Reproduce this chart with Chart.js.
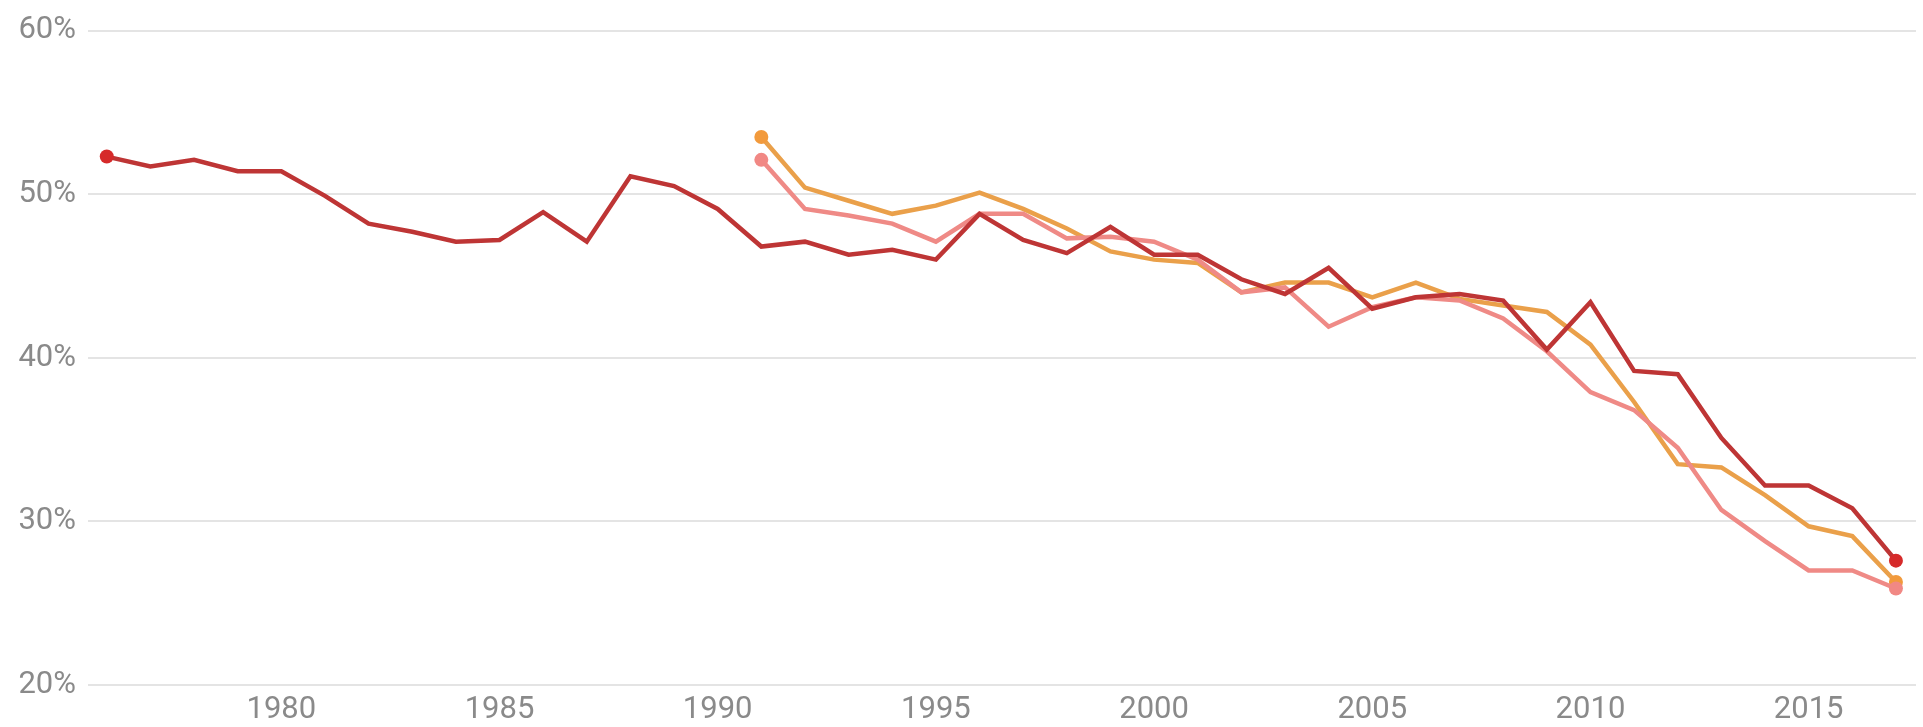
<!DOCTYPE html>
<html>
<head>
<meta charset="utf-8">
<script src="https://cdn.jsdelivr.net/npm/chart.js@4.4.1/dist/chart.umd.min.js"></script>
<style>
    html, body { margin: 0; padding: 0; background: #fff; }
    #wrap { width: 1923px; height: 727px; }
</style>
</head>
<body>
<div id="wrap"><canvas id="chart"></canvas></div>
<script>
// years on the x axis
const years = [1976, 1977, 1978, 1979, 1980, 1981, 1982, 1983, 1984, 1985,
    1986, 1987, 1988, 1989, 1990, 1991, 1992, 1993, 1994, 1995,
    1996, 1997, 1998, 1999, 2000, 2001, 2002, 2003, 2004, 2005,
    2006, 2007, 2008, 2009, 2010, 2011, 2012, 2013, 2014, 2015,
    2016, 2017];

// values in %
const redSeries = [52.3, 51.7, 52.1, 51.4, 51.4, 49.9, 48.2, 47.7, 47.1, 47.2,
    48.9, 47.1, 51.1, 50.5, 49.1, 46.8, 47.1, 46.3, 46.6, 46.0,
    48.8, 47.2, 46.4, 48.0, 46.3, 46.3, 44.8, 43.9, 45.5, 43.0,
    43.7, 43.9, 43.5, 40.5, 43.4, 39.2, 39.0, 35.1, 32.2, 32.2,
    30.8, 27.6];
const orangeSeries = [null, null, null, null, null, null, null, null, null, null,
    null, null, null, null, null, 53.5, 50.4, 49.6, 48.8, 49.3,
    50.1, 49.1, 47.9, 46.5, 46.0, 45.8, 44.0, 44.6, 44.6, 43.7,
    44.6, 43.6, 43.2, 42.8, 40.8, 37.3, 33.5, 33.3, 31.6, 29.7,
    29.1, 26.3];
const pinkSeries = [null, null, null, null, null, null, null, null, null, null,
    null, null, null, null, null, 52.1, 49.1, 48.7, 48.2, 47.1,
    48.8, 48.8, 47.3, 47.4, 47.1, 46.0, 44.0, 44.3, 41.9, 43.1,
    43.7, 43.5, 42.4, 40.4, 37.9, 36.8, 34.5, 30.7, 28.8, 27.0,
    27.0, 25.9];

const xTickYears = [1980, 1985, 1990, 1995, 2000, 2005, 2010, 2015];
const yTicks = [20, 30, 40, 50, 60];

const toPoints = (arr) => years.map((y, i) => ({ x: y, y: arr[i] }));

// dots only on the first and last value of each line
function endDots(radius) {
    return (ctx) => {
        const data = ctx.dataset.data;
        const first = data.findIndex(p => p.y !== null);
        const last = data.length - 1;
        return (ctx.dataIndex === first || ctx.dataIndex === last) ? radius : 0;
    };
}

const tickFont = { family: 'Roboto', size: 31 };
const tickColor = '#8a8a8a';

new Chart(document.getElementById('chart'), {
    type: 'line',
    data: {
        datasets: [
            {
                label: 'Series 1',
                data: toPoints(redSeries),
                borderColor: '#be3535',
                backgroundColor: '#d62a2a',
                borderWidth: 4.5,
                pointRadius: endDots(7),
                pointBorderWidth: 0,
                tension: 0
            },
            {
                label: 'Series 3',
                data: toPoints(pinkSeries),
                borderColor: '#ef8a86',
                backgroundColor: '#f18884',
                borderWidth: 4.5,
                pointRadius: endDots(7),
                pointBorderWidth: 0,
                tension: 0
            },
            {
                label: 'Series 2',
                data: toPoints(orangeSeries),
                borderColor: '#eaa04a',
                backgroundColor: '#f29a3c',
                borderWidth: 4.5,
                pointRadius: endDots(7),
                pointBorderWidth: 0,
                tension: 0
            }
        ]
    },
    options: {
        responsive: true,
        maintainAspectRatio: false,
        animation: false,
        spanGaps: false,
        layout: { padding: { top: 25, right: 0, left: 0, bottom: 0 } },
        plugins: {
            legend: { display: false },
            tooltip: { enabled: false }
        },
        scales: {
            x: {
                type: 'linear',
                min: 1975.57,
                max: 2017.46,
                grid: { display: false, drawTicks: false },
                border: { display: false },
                afterBuildTicks: (axis) => {
                    axis.ticks = xTickYears.map(v => ({ value: v }));
                },
                afterFit: (axis) => { axis.height = 42; },
                ticks: {
                    font: tickFont,
                    color: tickColor,
                    padding: 7,
                    maxRotation: 0,
                    autoSkip: false,
                    callback: (v) => String(v)
                }
            },
            y: {
                min: 20,
                max: 60,
                grid: { color: '#e4e4e4', lineWidth: 2, drawTicks: false },
                border: { display: false },
                afterBuildTicks: (axis) => {
                    axis.ticks = yTicks.map(v => ({ value: v }));
                },
                afterFit: (axis) => { axis.width = 88; },
                ticks: {
                    font: tickFont,
                    color: tickColor,
                    padding: 12,
                    callback: (v) => v + '%'
                }
            }
        }
    }
});
</script>
</body>
</html>
